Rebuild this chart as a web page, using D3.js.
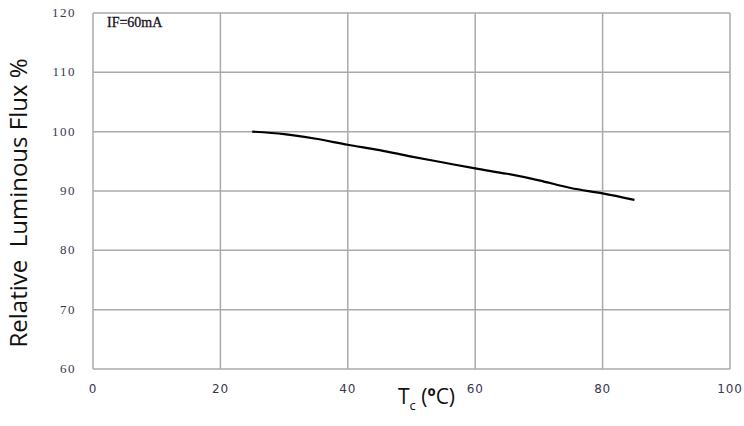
<!DOCTYPE html>
<html><head><meta charset="utf-8">
<script src="https://cdn.jsdelivr.net/npm/d3@7"></script>
<style>body{margin:0;background:#fff}</style>
</head><body>
<svg id="c" width="744" height="426"></svg>
<script>
const temps = [25,30,35,40,45,50,55,60,65,70,75,80,85];
const flux = [100,99.6,98.8,97.8,96.9,95.8,94.8,93.8,92.9,91.8,90.5,89.6,88.5];
const xTicks = [0,20,40,60,80,100];
const yTicks = [60,70,80,90,100,110,120];

const svg = d3.select("#c");
const x = d3.scaleLinear().domain([0,100]).range([93,730]);
const y = d3.scaleLinear().domain([60,120]).range([369,13]);

const g = svg.append("g");
g.selectAll("line.v").data(xTicks).enter().append("line")
  .attr("x1",d=>x(d)).attr("x2",d=>x(d)).attr("y1",y(120)).attr("y2",y(60))
  .attr("stroke","#aaaaaa").attr("stroke-width",1.5);
g.selectAll("line.h").data(yTicks).enter().append("line")
  .attr("x1",x(0)).attr("x2",x(100)).attr("y1",d=>y(d)).attr("y2",d=>y(d))
  .attr("stroke","#aaaaaa").attr("stroke-width",1.5);

g.selectAll("text.yt").data(yTicks).enter().append("text")
  .attr("x",76).attr("y",d=>y(d)+4).attr("text-anchor","end")
  .attr("font-family","Liberation Serif, serif").attr("font-size",13)
  .attr("letter-spacing",1.5)
  .attr("fill","#3a3550").text(d=>d);
g.selectAll("text.xt").data(xTicks).enter().append("text")
  .attr("x",d=>x(d)).attr("y",393).attr("text-anchor","middle")
  .attr("font-family","DejaVu Sans, sans-serif").attr("font-size",12)
  .attr("letter-spacing",0.8)
  .attr("fill","#3a3550").text(d=>d);

const line = d3.line().x((d,i)=>x(temps[i])).y(d=>y(d)).curve(d3.curveMonotoneX);
svg.append("path").datum(flux).attr("d",line).attr("fill","none")
  .attr("stroke","#000").attr("stroke-width",2.2);

svg.append("text").attr("x",107).attr("y",27)
  .attr("font-family","Liberation Serif, serif").attr("font-size",14)
  .attr("stroke","#1a1020").attr("stroke-width",0.3)
  .attr("fill","#1a1020").text("IF=60mA");

svg.append("text").attr("transform","translate(27,203) rotate(-90)")
  .attr("text-anchor","middle").attr("font-family","Open Sans, sans-serif")
  .attr("xml:space","preserve").style("white-space","pre")
  .attr("font-size",24).attr("fill","#111").text("Relative  Luminous Flux %");

const xl = svg.append("text").attr("x",398).attr("y",404)
  .attr("font-family","Open Sans, sans-serif").attr("font-size",21).attr("fill","#111")
  .style("white-space","pre");
xl.append("tspan").text("T");
xl.append("tspan").attr("dy",6).attr("font-size",13).text("c");
xl.append("tspan").attr("dy",-6).text(" (");
xl.append("tspan").attr("font-weight","bold").text("º");
xl.append("tspan").text("C)");
</script>
</body></html>
